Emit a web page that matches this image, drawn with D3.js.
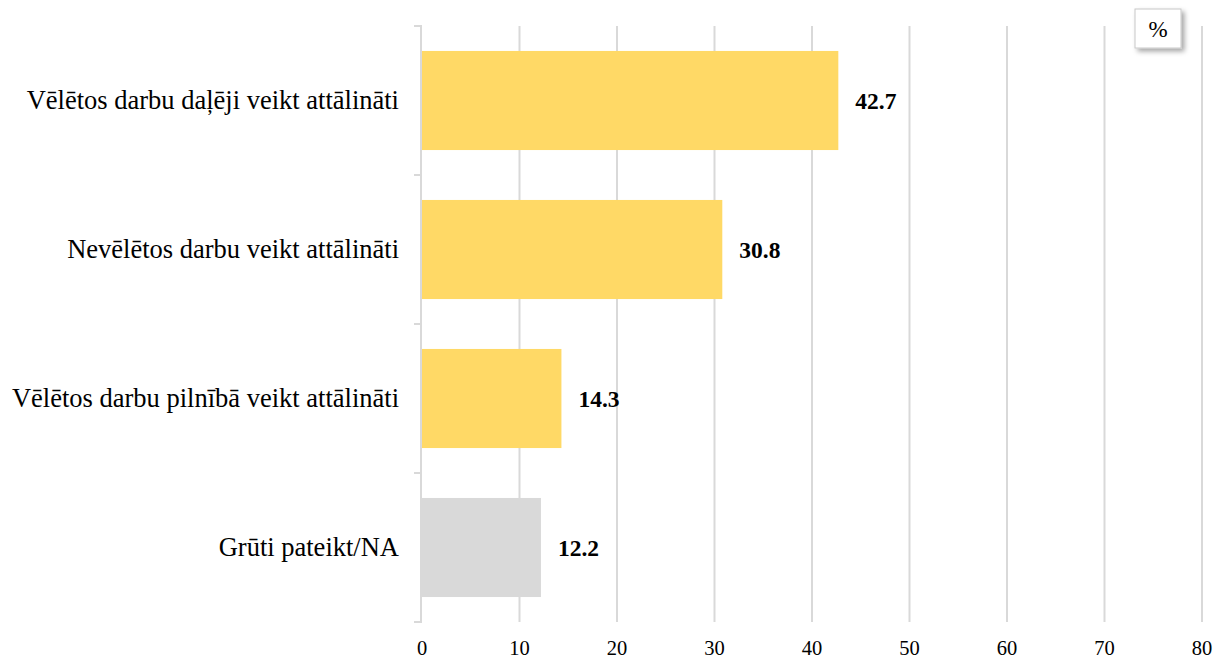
<!DOCTYPE html>
<html><head><meta charset="utf-8">
<script src="https://cdn.jsdelivr.net/npm/d3@7"></script>
<style>body{margin:0;background:#fff;} svg{display:block;}</style>
</head><body><div id="chart"></div>
<script>
const categories = ["Vēlētos darbu daļēji veikt attālināti","Nevēlētos darbu veikt attālināti","Vēlētos darbu pilnībā veikt attālināti","Grūti pateikt/NA"];
const values = [42.7, 30.8, 14.3, 12.2];
const barColors = ["#FFD966","#FFD966","#FFD966","#D9D9D9"];
const xTicks = [0,10,20,30,40,50,60,70,80];
const unitLabel = "%";

const FONT = "'Liberation Serif','Times New Roman',serif";
const W = 1223, H = 658;
const svg = d3.select("#chart").append("svg").attr("width", W).attr("height", H);
const defs = svg.append("defs");
const f = defs.append("filter").attr("id","sh").attr("x","-30%").attr("y","-30%").attr("width","180%").attr("height","180%");
f.append("feDropShadow").attr("dx",3).attr("dy",3).attr("stdDeviation",2.5).attr("flood-color","#000").attr("flood-opacity",0.35);

const x = d3.scaleLinear().domain([0,80]).range([422,1202]);
const y = d3.scaleBand().domain(categories).range([26,622]).paddingInner(0.335).paddingOuter(0.1675);
const grid = "#D9D9D9";

svg.append("g").selectAll("line").data(xTicks.filter(d=>d>0)).join("line")
  .attr("x1",d=>x(d)).attr("x2",d=>x(d)).attr("y1",26).attr("y2",622)
  .attr("stroke",grid).attr("stroke-width",2);

const bounds = [26, 175, 324, 473, 622];
svg.append("line").attr("x1",421).attr("x2",421).attr("y1",25).attr("y2",623).attr("stroke",grid).attr("stroke-width",2);
svg.append("g").selectAll("line").data(bounds).join("line")
  .attr("x1",414).attr("x2",421).attr("y1",d=>d).attr("y2",d=>d).attr("stroke",grid).attr("stroke-width",2);

svg.append("g").selectAll("rect").data(values).join("rect")
  .attr("x",x(0)).attr("y",(d,i)=>y(categories[i]))
  .attr("width",d=>x(d)-x(0)).attr("height",y.bandwidth())
  .attr("fill",(d,i)=>barColors[i]);

svg.append("g").selectAll("text").data(values).join("text")
  .attr("x",d=>x(d)+17).attr("y",(d,i)=>y(categories[i])+y.bandwidth()/2)
  .attr("dy","0.36em")
  .style("font-family",FONT).style("font-size","23.5px").style("font-weight","bold").attr("fill","#000")
  .text(d=>d.toFixed(1));

svg.append("g").selectAll("text").data(categories).join("text")
  .attr("x",399).attr("y",d=>y(d)+y.bandwidth()/2).attr("dy","0.32em")
  .attr("text-anchor","end")
  .style("font-family",FONT).style("font-size","26.5px").attr("fill","#000").text(d=>d);

svg.append("g").selectAll("text").data(xTicks).join("text")
  .attr("x",d=>x(d)).attr("y",655).attr("text-anchor","middle")
  .style("font-family",FONT).style("font-size","20.5px").attr("fill","#000")
  .text(d=>d);

svg.append("rect").attr("x",1135).attr("y",9).attr("width",46).attr("height",39)
  .attr("fill","#fff").attr("stroke","#C8C8C8").attr("stroke-width",1).attr("filter","url(#sh)");
svg.append("text").attr("x",1158).attr("y",29).attr("dy","0.35em").attr("text-anchor","middle")
  .style("font-family",FONT).style("font-size","23px").text(unitLabel);
</script></body></html>
